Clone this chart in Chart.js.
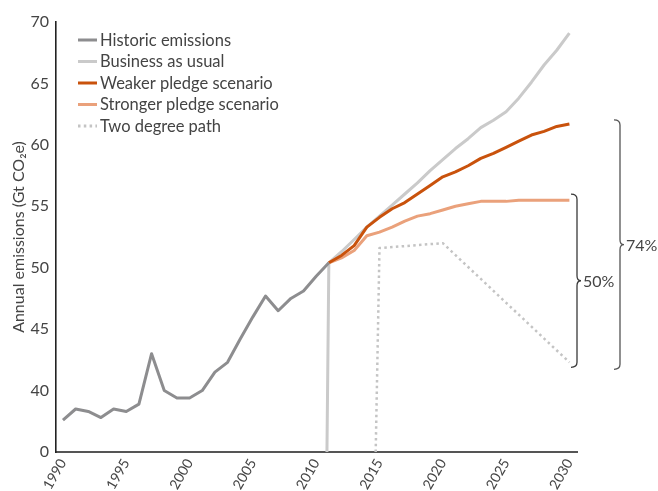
<!DOCTYPE html>
<html><head><meta charset="utf-8">
<script src="https://cdn.jsdelivr.net/npm/chart.js@4.4.1/dist/chart.umd.min.js"></script>
<style>html,body{margin:0;padding:0;background:#fff}#wrap{width:658px;height:491px;position:relative}</style>
</head><body><div id="wrap"><canvas id="c"></canvas></div>
<script>
// Broken y axis: the bottom of the axis is labelled "0"
const AXIS_FLOOR = 35;
const X_TICKS = [1990, 1995, 2000, 2005, 2010, 2015, 2020, 2025, 2030];
const Y_TICKS = [35, 40, 45, 50, 55, 60, 65, 70];

const HIST_YEARS = [1990,1991,1992,1993,1994,1995,1996,1997,1998,1999,2000,2001,2002,2003,2004,2005,2006,2007,2008,2009,2010,2011];
const HIST_VALUES = [37.6,38.5,38.3,37.8,38.5,38.3,38.9,43.0,40.0,39.4,39.4,40.0,41.5,42.3,44.2,46.0,47.7,46.5,47.5,48.1,49.3,50.4];

const BAU_YEARS = [2010.85,2011,2012,2013,2014,2015,2016,2017,2018,2019,2020,2021,2022,2023,2024,2025,2026,2027,2028,2029,2030];
const BAU_VALUES = [0,50.4,51.3,52.3,53.3,54.2,55.1,56.0,56.9,57.9,58.8,59.7,60.5,61.4,62.0,62.7,63.8,65.1,66.5,67.7,69.1];

const SCEN_YEARS = [2011,2012,2013,2014,2015,2016,2017,2018,2019,2020,2021,2022,2023,2024,2025,2026,2027,2028,2029,2030];
const WEAKER_VALUES = [50.4,51.0,51.8,53.3,54.1,54.8,55.3,56.0,56.7,57.4,57.8,58.3,58.9,59.3,59.8,60.3,60.8,61.1,61.5,61.7];
const STRONGER_VALUES = [50.4,50.8,51.4,52.6,52.9,53.3,53.8,54.2,54.4,54.7,55.0,55.2,55.4,55.4,55.4,55.5,55.5,55.5,55.5,55.5];

const TWO_DEG_YEARS = [2014.7,2015,2020,2030];
const TWO_DEG_VALUES = [0,51.6,52.0,42.3];

const LABELS = ['Historic emissions','Business as usual','Weaker pledge scenario','Stronger pledge scenario','Two degree path'];
const COLORS = ['#8d8d8f','#cacaca','#c9520c','#eaa17b','#c4c4c4'];
const BRACKET_LABELS = ['50%','74%'];

const FONT = 'Lato, "Open Sans", sans-serif';
const TXT = '#444';

function pts(xs, ys){ return xs.map((x,i)=>({x:x, y:Math.max(ys[i], AXIS_FLOOR)})); }

const legendPlugin = {
  id:'customLegend',
  afterDraw(chart){
    const ctx = chart.ctx, a = chart.chartArea;
    ctx.save();
    ctx.font = '16.5px ' + FONT;
    ctx.textBaseline = 'middle';
    const x0 = a.left + 22, y0 = a.top + 18, step = 21.5;
    chart.data.datasets.forEach((ds,i)=>{
      const y = y0 + i*step;
      ctx.beginPath();
      ctx.strokeStyle = ds.borderColor;
      ctx.lineWidth = 3;
      ctx.setLineDash(ds.borderDash || []);
      ctx.moveTo(x0, y); ctx.lineTo(x0+19, y); ctx.stroke();
      ctx.setLineDash([]);
      ctx.fillStyle = TXT;
      ctx.fillText(ds.label, x0+22, y+0.5);
    });
    ctx.restore();
  }
};

function brace(ctx, x, top, bottom, w, tip){
  const mid = (top+bottom)/2, r = 5;
  ctx.beginPath();
  ctx.moveTo(x - w, top);
  ctx.quadraticCurveTo(x, top, x, top + r);
  ctx.lineTo(x, mid - r);
  ctx.quadraticCurveTo(x, mid, x + tip, mid);
  ctx.quadraticCurveTo(x, mid, x, mid + r);
  ctx.lineTo(x, bottom - r);
  ctx.quadraticCurveTo(x, bottom, x - w, bottom);
  ctx.stroke();
}

const bracketPlugin = {
  id:'brackets',
  afterDraw(chart){
    const ctx = chart.ctx, y = chart.scales.y, a = chart.chartArea;
    const strongEnd = STRONGER_VALUES[STRONGER_VALUES.length-1];
    const weakEnd = WEAKER_VALUES[WEAKER_VALUES.length-1];
    const twoEnd = TWO_DEG_VALUES[TWO_DEG_VALUES.length-1];
    ctx.save();
    ctx.strokeStyle = '#3a3a3a';
    ctx.lineWidth = 1.3;
    ctx.font = '16px ' + FONT;
    ctx.fillStyle = TXT;
    ctx.textBaseline = 'middle';
    const x1 = a.right, t1 = y.getPixelForValue(strongEnd)-6, b1 = y.getPixelForValue(twoEnd)+5;
    brace(ctx, x1, t1, b1, 6, 4);
    ctx.fillText(BRACKET_LABELS[0], x1+6, (t1+b1)/2+1);
    const x2 = a.right + 43, t2 = y.getPixelForValue(weakEnd)-4, b2 = y.getPixelForValue(twoEnd)+7;
    ctx.strokeStyle = '#555';
    brace(ctx, x2, t2, b2, 6, 4);
    ctx.fillText(BRACKET_LABELS[1], x2+6, (t2+b2)/2+1);
    ctx.restore();
  }
};

const common = {fill:false, pointRadius:0, borderWidth:3, tension:0, borderJoinStyle:'round'};

new Chart(document.getElementById('c'), {
  type:'line',
  data:{datasets:[
    Object.assign({label:LABELS[0], data:pts(HIST_YEARS,HIST_VALUES), borderColor:COLORS[0], order:1}, common),
    Object.assign({label:LABELS[1], data:pts(BAU_YEARS,BAU_VALUES), borderColor:COLORS[1], order:5}, common),
    Object.assign({label:LABELS[2], data:pts(SCEN_YEARS,WEAKER_VALUES), borderColor:COLORS[2], order:2}, common),
    Object.assign({label:LABELS[3], data:pts(SCEN_YEARS,STRONGER_VALUES), borderColor:COLORS[3], order:3}, common),
    Object.assign({label:LABELS[4], data:pts(TWO_DEG_YEARS,TWO_DEG_VALUES), borderColor:COLORS[4], borderDash:[2.5,3.3], order:4}, common, {borderWidth:2.5})
  ]},
  options:{
    responsive:true, maintainAspectRatio:false, animation:false,
    layout:{padding:{top:22, right:81, left:0, bottom:0}},
    plugins:{legend:{display:false}, tooltip:{enabled:false}},
    scales:{
      x:{type:'linear', min:1989.45, max:2030.6,
        afterBuildTicks:s=>{ s.ticks = X_TICKS.map(v=>({value:v})); },
        afterFit:s=>{ s.height = 39; },
        grid:{display:false, drawTicks:false},
        border:{display:true, color:'#555', width:2},
        ticks:{color:TXT, font:{family:FONT, size:14}, minRotation:60, maxRotation:60, padding:4, autoSkip:false,
          callback:v=>String(v)}
      },
      y:{type:'linear', min:AXIS_FLOOR, max:70,
        afterBuildTicks:s=>{ s.ticks = Y_TICKS.map(v=>({value:v})); },
        afterFit:s=>{ s.width = 56; },
        grid:{display:false, drawTicks:false},
        border:{display:true, color:'#222', width:1.6},
        ticks:{color:TXT, font:{family:FONT, size:16}, padding:7,
          callback:v=> v===AXIS_FLOOR ? '0' : String(v)},
        title:{display:true, text:'Annual emissions (Gt CO\u2082e)', color:TXT, font:{family:FONT, size:16}, padding:{top:9,bottom:0}}
      }
    }
  },
  plugins:[legendPlugin, bracketPlugin]
});
</script></body></html>
